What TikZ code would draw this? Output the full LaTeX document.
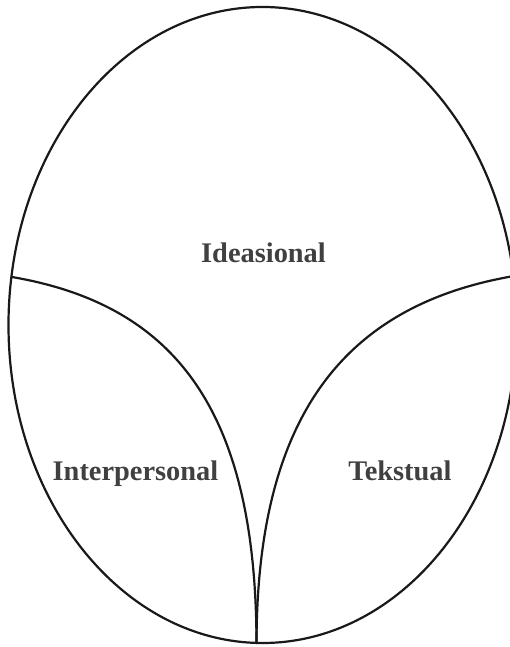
\documentclass[tikz,border=0pt]{standalone}
\usepackage{fontspec}
\setmainfont{Liberation Serif}
\begin{document}
\begin{tikzpicture}[x=1bp,y=-1bp,
  line/.style={line width=2.2bp, draw=black!90, line cap=round},
  label/.style={font=\fontsize{28.5}{31}\selectfont\bfseries, text=black!75, anchor=base, inner sep=0pt}]
\useasboundingbox (0,0) rectangle (510,647);
\clip (0,0) rectangle (510,647);
\draw[line] (262.5,325) ellipse [x radius=254bp, y radius=318bp];
\coordinate (lt) at (12,277);
\coordinate (rt) at (514,276);
\coordinate (bt) at (256.5,643);
\draw[line] (lt) .. controls (175,305) and (256,410) .. (bt);
\draw[line] (rt) .. controls (345,305) and (257,415) .. (bt);
\node[label] (ide) at (263.5,262) {Ideasional};
\node[label] (inter) at (135.5,480) {Interpersonal};
\node[label] (tek) at (400,480) {Tekstual};
\end{tikzpicture}
\end{document}
